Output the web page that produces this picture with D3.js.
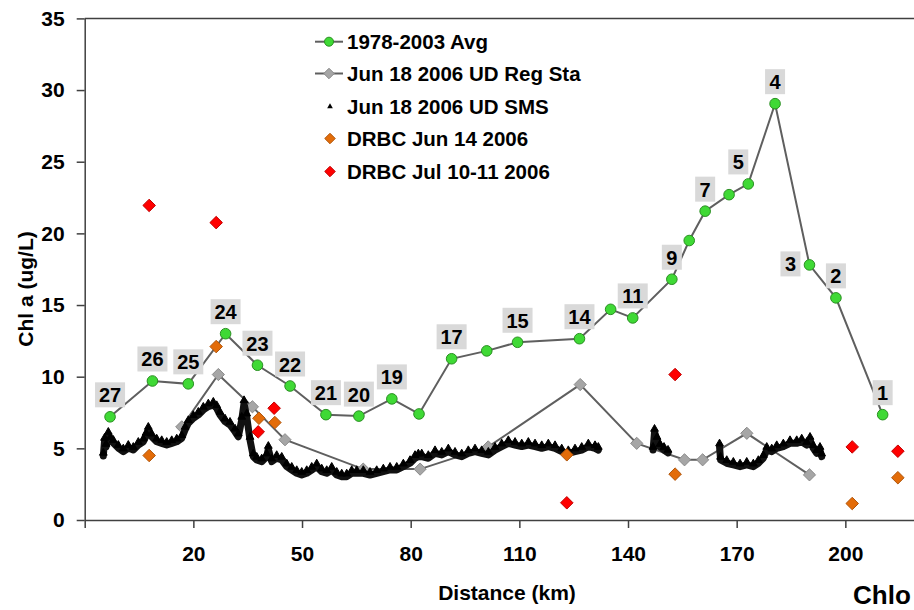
<!DOCTYPE html>
<html>
<head>
<meta charset="utf-8">
<script src="https://cdn.jsdelivr.net/npm/d3@7"></script>
<style>
  body { margin: 0; background: #fff; }
  svg { display: block; font-family: "Liberation Sans", Arial, sans-serif; font-weight: bold; }
</style>
</head>
<body>
<svg id="chart" width="914" height="610"></svg>
<script>
// 1978-2003 average, station numbers as labels
const avgKm = [-3.0, 8.7, 18.6, 28.9, 37.7, 46.7, 56.6, 65.7, 74.8, 82.3, 91.3, 101.0, 109.5, 126.6, 135.2, 141.3, 152.1, 156.9, 161.3, 167.9, 173.2, 180.6, 190.1, 197.4, 210.3];
const avgChl = [7.2, 9.7, 9.5, 13.0, 10.8, 9.35, 7.35, 7.25, 8.45, 7.4, 11.25, 11.8, 12.4, 12.65, 14.7, 14.1, 16.8, 19.5, 21.55, 22.7, 23.45, 29.05, 17.8, 15.5, 7.35];
const avgStation = ["27", "26", "25", "24", "23", "22", "21", "20", "19", "", "17", "", "15", "14", "", "11", "9", "", "7", "", "5", "4", "3", "2", "1"];

// Jun 18 2006 UD regular stations
const regKm = [16.8, 26.9, 36.3, 45.3, 66.9, 82.6, 101.4, 126.8, 142.4, 155.6, 160.6, 172.8, 190.1];
const regChl = [6.5, 10.15, 7.9, 5.6, 3.55, 3.55, 5.1, 9.45, 5.35, 4.2, 4.2, 6.05, 3.15];

// Jun 18 2006 UD SMS (underway trace)
const smsKm = [-4.86, -4.53, -4.11, -3.48, -2.87, -2.10, -0.72, 0.66, 2.04, 3.42, 4.80, 6.18, 6.93, 7.56, 8.50, 9.88, 11.26, 12.64, 14.03, 15.41, 16.79, 17.70, 18.61, 19.99, 21.37, 22.75, 24.13, 25.51, 26.45, 27.36, 28.74, 30.12, 31.50, 32.41, 33.35, 33.99, 34.73, 35.64, 36.55, 37.49, 38.87, 40.25, 40.70, 41.63, 43.01, 44.40, 45.78, 47.16, 48.54, 49.92, 51.30, 52.68, 54.06, 55.44, 56.82, 58.20, 59.58, 60.96, 62.34, 63.72, 65.10, 66.92, 68.77, 70.62, 72.45, 74.30, 76.15, 77.97, 79.82, 81.20, 82.11, 83.05, 84.87, 86.72, 88.57, 90.39, 92.24, 94.09, 95.91, 97.76, 99.61, 101.44, 103.29, 105.13, 106.96, 108.81, 110.66, 112.48, 114.33, 116.18, 118.00, 119.85, 121.70, 123.52, 125.37, 127.22, 129.04, 130.89, 131.80,
  146.91, 147.32, 148.01, 148.84, 149.94, 151.05,
  165.27, 165.55, 167.26, 169.08, 170.93, 172.78, 174.60, 175.98, 177.36, 178.30, 179.68, 181.06, 182.88, 184.73, 186.58, 187.96, 189.34, 190.25, 191.16, 192.10, 193.00, 193.47];
const smsChl = [4.47, 5.51, 5.09, 5.93, 5.58, 5.37, 5.02, 4.77, 5.02, 4.88, 5.23, 5.46, 5.86, 6.28, 5.81, 5.46, 5.35, 5.23, 5.35, 5.46, 5.70, 6.28, 6.75, 7.10, 7.33, 7.68, 7.91, 8.03, 7.79, 7.33, 6.86, 6.63, 6.16, 5.81, 6.98, 8.14, 7.21, 5.58, 4.42, 4.19, 4.07, 4.42, 4.95, 4.07, 4.31, 4.19, 3.72, 3.49, 3.26, 3.14, 3.26, 3.49, 3.72, 3.37, 3.26, 3.49, 3.14, 3.02, 3.02, 3.26, 3.26, 3.26, 3.14, 3.26, 3.37, 3.49, 3.49, 3.72, 3.96, 4.31, 4.42, 4.42, 4.31, 4.65, 4.54, 4.77, 4.54, 4.42, 4.65, 4.77, 4.65, 4.54, 4.88, 5.12, 5.35, 5.23, 5.12, 5.23, 5.12, 5.00, 5.12, 5.00, 4.77, 4.65, 4.77, 4.88, 5.12, 5.00, 4.88,
  4.88, 6.14, 5.58, 5.09, 4.88, 4.68,
  5.12, 4.19, 3.96, 3.84, 3.72, 3.84, 3.72, 3.96, 4.31, 4.88, 4.77, 5.00, 5.12, 5.35, 5.35, 5.46, 5.23, 5.58, 5.00, 4.65, 4.88, 4.42];

// DRBC surveys
const junKm = [7.8, 26.3, 38.1, 42.5, 123.1, 153.0, 201.9, 214.5];
const junChl = [4.5, 12.1, 7.1, 6.8, 4.55, 3.2, 1.15, 2.95];
const julKm = [7.8, 26.3, 37.9, 42.3, 123.1, 153.0, 201.9, 214.5];
const julChl = [21.95, 20.75, 6.15, 7.8, 1.2, 10.15, 5.1, 4.8];

const yTicks = [0, 5, 10, 15, 20, 25, 30, 35];
const xTicks = [-10, 20, 50, 80, 110, 140, 170, 200];
const seriesNames = ["1978-2003 Avg", "Jun 18 2006 UD Reg Sta", "Jun 18 2006 UD SMS", "DRBC Jun 14 2006", "DRBC Jul 10-11 2006"];

const svg = d3.select("#chart");
const x = d3.scaleLinear().domain([-10, 230]).range([84.7, 954]);
const y = d3.scaleLinear().domain([0, 35]).range([520, 18.4]);

const axisColor = "#404040";
const green = "#3fd935", greenEdge = "#2a8f22";
const grayFill = "#a6a6a6", grayEdge = "#8a8a8a";
const orange = "#e36c09", orangeEdge = "#b0560c";
const red = "#ff0000", redEdge = "#c00000";
const lineColor = "#5f5f5f";

// top border of plot area
svg.append("line")
  .attr("x1", x(-10)).attr("x2", 914)
  .attr("y1", y(35)).attr("y2", y(35))
  .attr("stroke", axisColor).attr("stroke-width", 1.5);

const yAxis = svg.append("g")
  .attr("transform", `translate(${x(-10)},0)`)
  .call(d3.axisLeft(y).tickValues(yTicks).tickSize(8).tickSizeOuter(0).tickPadding(12));
const xAxis = svg.append("g")
  .attr("transform", `translate(0,${y(0)})`)
  .call(d3.axisBottom(x).tickValues(xTicks).tickSize(8).tickSizeOuter(0).tickPadding(18)
    .tickFormat(d => d < 0 ? "" : d));
[yAxis, xAxis].forEach(g => {
  g.selectAll("path, line").attr("stroke", axisColor).attr("stroke-width", 1.5);
  g.selectAll("text").attr("fill", "#000")
    .style("font-size", "21px").style("font-weight", "bold")
    .style("font-family", '"Liberation Sans", Arial, sans-serif');
});

svg.append("text")
  .attr("x", 507).attr("y", 600)
  .attr("text-anchor", "middle")
  .style("font-size", "21px")
  .text("Distance (km)");
svg.append("text")
  .attr("transform", "translate(33,289) rotate(-90)")
  .attr("text-anchor", "middle")
  .style("font-size", "21px")
  .text("Chl a (ug/L)");
// chart title, only its start is inside the frame
svg.append("text")
  .attr("x", 853).attr("y", 604)
  .style("font-size", "26px")
  .text("Chlo");

const diamond = s => d3.symbol().type(d3.symbolDiamond2).size(s)();
const line = d3.line().x(d => x(d[0])).y(d => y(d[1]));

// average series
const avg = avgKm.map((k, i) => [k, avgChl[i], avgStation[i]]);
svg.append("path").attr("d", line(avg))
  .attr("fill", "none").attr("stroke", lineColor).attr("stroke-width", 2);
svg.append("g").selectAll("circle").data(avg).join("circle")
  .attr("cx", d => x(d[0])).attr("cy", d => y(d[1])).attr("r", 5.3)
  .attr("fill", green).attr("stroke", greenEdge).attr("stroke-width", 1);

// station labels: placed above each point, a couple shifted left
const labelShift = { "5": [-10, -22], "3": [-19, -1] };
const lab = svg.append("g").selectAll("g").data(avg.filter(d => d[2] !== "")).join("g")
  .attr("transform", d => {
    const s = labelShift[d[2]] || [0, -22];
    return `translate(${x(d[0]) + s[0]},${y(d[1]) + s[1]})`;
  });
lab.append("rect")
  .attr("x", d => d[2].length > 1 ? -15 : -10).attr("y", -12.5)
  .attr("width", d => d[2].length > 1 ? 30 : 20).attr("height", 25)
  .attr("fill", "#d9d9d9");
lab.append("text")
  .attr("text-anchor", "middle").attr("y", 7.5)
  .style("font-size", "20px")
  .text(d => d[2]);

// regular stations
const reg = regKm.map((k, i) => [k, regChl[i]]);
svg.append("path").attr("d", line(reg))
  .attr("fill", "none").attr("stroke", lineColor).attr("stroke-width", 2);
svg.append("g").selectAll("path").data(reg).join("path")
  .attr("transform", d => `translate(${x(d[0])},${y(d[1])})`)
  .attr("d", diamond(95))
  .attr("fill", grayFill).attr("stroke", grayEdge).attr("stroke-width", 1);

// SMS trace, split where the boat record has gaps
const sms = smsKm.map((k, i) => [k, smsChl[i]]);
const segs = [];
sms.forEach((d, i) => {
  if (i === 0 || d[0] - sms[i - 1][0] > 5) segs.push([]);
  segs[segs.length - 1].push(d);
});
svg.append("g").selectAll("path").data(segs).join("path")
  .attr("d", line)
  .attr("fill", "none").attr("stroke", "#111").attr("stroke-width", 7)
  .attr("stroke-linejoin", "round").attr("stroke-linecap", "round");
svg.append("g").selectAll("path").data(sms).join("path")
  .attr("transform", d => `translate(${x(d[0])},${y(d[1]) - 3})`)
  .attr("d", d3.symbol().type(d3.symbolTriangle).size(26)())
  .attr("fill", "#000").attr("stroke", "#000").attr("stroke-width", 1);

// DRBC points
svg.append("g").selectAll("path").data(junKm.map((k, i) => [k, junChl[i]])).join("path")
  .attr("transform", d => `translate(${x(d[0])},${y(d[1])})`)
  .attr("d", diamond(100))
  .attr("fill", orange).attr("stroke", orangeEdge).attr("stroke-width", 1);
svg.append("g").selectAll("path").data(julKm.map((k, i) => [k, julChl[i]])).join("path")
  .attr("transform", d => `translate(${x(d[0])},${y(d[1])})`)
  .attr("d", diamond(100))
  .attr("fill", red).attr("stroke", redEdge).attr("stroke-width", 1);

// legend
const leg = svg.append("g").attr("transform", "translate(315,0)");
const rowY = [41.7, 73.5, 106.5, 138.5, 171.5];
rowY.forEach((ry, i) => {
  const r = leg.append("g").attr("transform", `translate(0,${ry})`);
  if (i < 2) {
    r.append("line").attr("x1", 0).attr("x2", 28)
      .attr("stroke", lineColor).attr("stroke-width", 2);
  }
  if (i === 0) {
    r.append("circle").attr("cx", 14).attr("r", 4.5)
      .attr("fill", green).attr("stroke", greenEdge);
  } else if (i === 1) {
    r.append("path").attr("transform", "translate(14,0)").attr("d", diamond(70))
      .attr("fill", grayFill).attr("stroke", grayEdge);
  } else if (i === 2) {
    r.append("path").attr("transform", "translate(15,0)")
      .attr("d", d3.symbol().type(d3.symbolTriangle).size(14)()).attr("fill", "#000");
  } else {
    r.append("path").attr("transform", "translate(15,0)").attr("d", diamond(70))
      .attr("fill", i === 3 ? orange : red).attr("stroke", i === 3 ? orangeEdge : redEdge);
  }
  r.append("text").attr("x", 32).attr("y", 7.5)
    .style("font-size", "20.5px")
    .text(seriesNames[i]);
});
</script>
</body>
</html>
